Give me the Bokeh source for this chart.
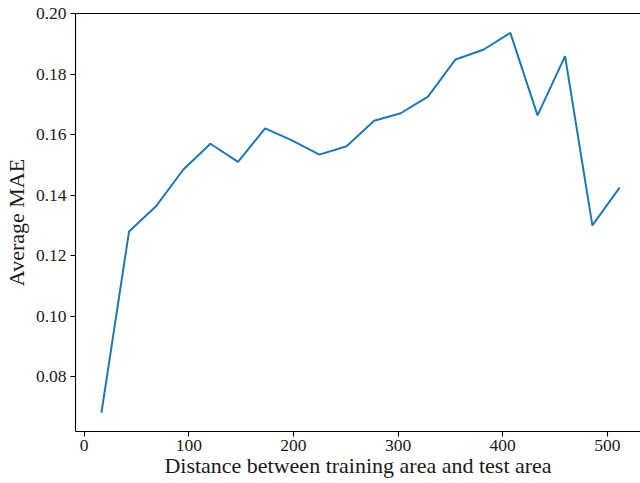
from bokeh.plotting import figure
from bokeh.models import Range1d, FixedTicker, PrintfTickFormatter, LinearAxis
from bokeh.embed import file_html
from bokeh.resources import INLINE

# data
distance = [16.5, 42.9, 68.6, 94.6, 120.6, 147.0, 173.0, 198.6, 224.8, 250.8,
            277.1, 302.5, 328.6, 354.9, 381.5, 407.3, 433.3, 459.6, 485.7, 511.7]
mae = [0.0680, 0.1280, 0.1363, 0.1484, 0.1570, 0.1510, 0.1621, 0.1581, 0.1534, 0.1562,
       0.1646, 0.1671, 0.1726, 0.1849, 0.1881, 0.1937, 0.1664, 0.1860, 0.1300, 0.1425]
x_ticks = [0, 100, 200, 300, 400, 500]
y_ticks = [0.08, 0.10, 0.12, 0.14, 0.16, 0.18, 0.20]

FONT = "Liberation Serif"
W, H = 640, 483
LEFT, TOP, BOTTOM = 73, 13, 52

p = figure(width=W, height=H, output_backend="svg", toolbar_location=None,
           x_range=Range1d(-8.29, 531.7), y_range=Range1d(0.0618, 0.2001),
           min_border_left=LEFT, min_border_top=TOP, min_border_bottom=BOTTOM,
           min_border_right=0,
           x_axis_label="Distance between training area and test area",
           y_axis_label="Average MAE")
p.outline_line_color = None
p.grid.visible = False
p.background_fill_color = "white"
p.border_fill_color = "white"

p.line(distance, mae, line_color="#1f77b4", line_width=2)

for ax in (p.xaxis[0], p.yaxis[0]):
    ax.axis_line_color = "black"
    ax.axis_line_width = 1.1
    ax.major_tick_line_color = "black"
    ax.major_tick_line_width = 1.1
    ax.major_tick_in = 0
    ax.major_tick_out = 5
    ax.minor_tick_line_color = None
    ax.major_label_text_font = FONT
    ax.major_label_text_font_size = "17.5px"
    ax.major_label_text_color = "#1a1a1a"
    ax.axis_label_text_font = FONT
    ax.axis_label_text_font_size = "22px"
    ax.axis_label_text_font_style = "normal"
    ax.axis_label_text_color = "#1a1a1a"

p.xaxis[0].ticker = FixedTicker(ticks=x_ticks)
p.yaxis[0].ticker = FixedTicker(ticks=y_ticks)
p.yaxis[0].formatter = PrintfTickFormatter(format="%.2f")
p.xaxis[0].major_label_standoff = 3
p.xaxis[0].axis_label_standoff = -1
p.yaxis[0].major_label_standoff = 4
p.yaxis[0].axis_label_standoff = 4

top_axis = LinearAxis(ticker=FixedTicker(ticks=[]), axis_line_color="black",
                      axis_line_width=1.1, major_tick_line_color=None,
                      minor_tick_line_color=None, major_label_standoff=0)
p.add_layout(top_axis, "above")

open("out.html", "w").write(file_html(p, INLINE))
